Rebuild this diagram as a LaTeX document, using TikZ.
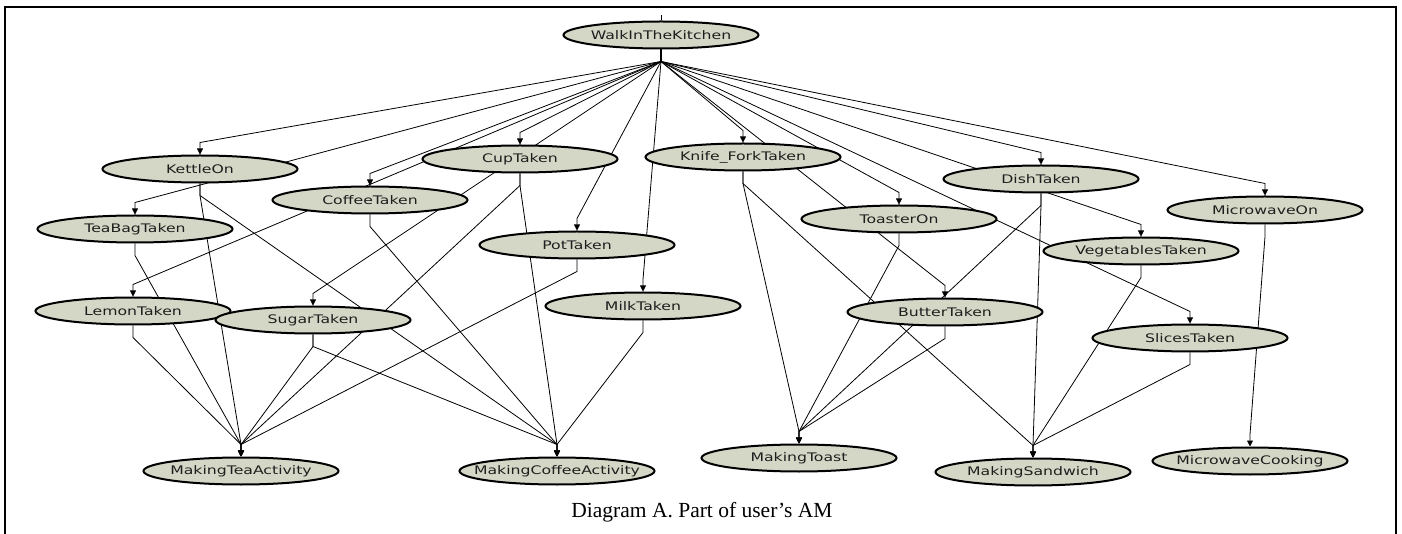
\documentclass[tikz,border=0pt]{standalone}
\usepackage{fontspec}
\setmainfont{Liberation Serif}
\newfontfamily\nodefont[FakeStretch=1.33]{DejaVu Sans}
\usetikzlibrary{shapes.geometric,arrows.meta,backgrounds}
\definecolor{nodefill}{RGB}{213,215,198}
\definecolor{nodetext}{RGB}{30,30,30}
\tikzset{
  state/.style={ellipse, draw=black, line width=2pt, fill=nodefill, text=nodetext,
    minimum width=195pt, minimum height=27pt, inner ysep=0pt, inner xsep=-14pt,
    font=\nodefont\fontsize{11.8}{12}\selectfont},
  link/.style={line width=0.8pt, -{Triangle[length=6pt,width=6pt]}},
}

\begin{document}
\begin{tikzpicture}[x=1pt,y=1pt]
  \useasboundingbox (0,0) rectangle (1402,533);
  \draw[line width=1.5pt] (5,-2) |- (1396,526) -- (1396,-2);

  \node[state] (walk)       at (661,498) {WalkInTheKitchen};
  \node[state] (kettle)     at (200,364) {KettleOn};
  \node[state] (cup)        at (520,374) {CupTaken};
  \node[state] (knife)      at (743,376) {Knife\_ForkTaken};
  \node[state] (dish)       at (1041,354) {DishTaken};
  \node[state] (coffee)     at (370,333) {CoffeeTaken};
  \node[state] (micro)      at (1265,323) {MicrowaveOn};
  \node[state] (toaster)    at (899,314) {ToasterOn};
  \node[state] (teabag)     at (135,304) {TeaBagTaken};
  \node[state] (pot)        at (577,288) {PotTaken};
  \node[state] (veg)        at (1141,282) {VegetablesTaken};
  \node[state] (milk)       at (643,227) {MilkTaken};
  \node[state] (lemon)      at (133,222) {LemonTaken};
  \node[state] (butter)     at (945,221) {ButterTaken};
  \node[state] (sugar)      at (313,213) {SugarTaken};
  \node[state] (slices)     at (1190,195) {SlicesTaken};
  \node[state] (toast)      at (799,75)  {MakingToast};
  \node[state] (cooking)    at (1250,72) {MicrowaveCooking};
  \node[state] (tea)        at (241,62)  {MakingTeaActivity};
  \node[state] (coffeeact)  at (557,62)  {MakingCoffeeActivity};
  \node[state] (sandwich)   at (1033,61) {MakingSandwich};

  \node[font=\fontsize{21.5}{24}\selectfont, anchor=base] (caption) at (702,16)
    {Diagram A. Part of user’s AM};

  \coordinate (above) at ([yshift=5pt]walk.north);

  \begin{scope}[on background layer]
    \draw[line width=0.8pt] (walk.north) -- (above);
    \foreach \p/\c in {walk/kettle, walk/teabag, walk/coffee, walk/cup, walk/lemon,
        walk/sugar, walk/pot, walk/milk, walk/knife, walk/toaster, walk/butter,
        walk/dish, walk/veg, walk/slices, walk/micro,
        kettle/tea, teabag/tea, lemon/tea, sugar/tea, cup/tea, pot/tea,
        kettle/coffeeact, coffee/coffeeact, cup/coffeeact, sugar/coffeeact, milk/coffeeact,
        knife/toast, toaster/toast, butter/toast, dish/toast,
        knife/sandwich, dish/sandwich, veg/sandwich, slices/sandwich,
        micro/cooking}
      \draw[link] (\p.south) -- ++(0,-12) -- ([yshift=12pt]\c.north) -- (\c.north);
  \end{scope}
\end{tikzpicture}
\end{document}
